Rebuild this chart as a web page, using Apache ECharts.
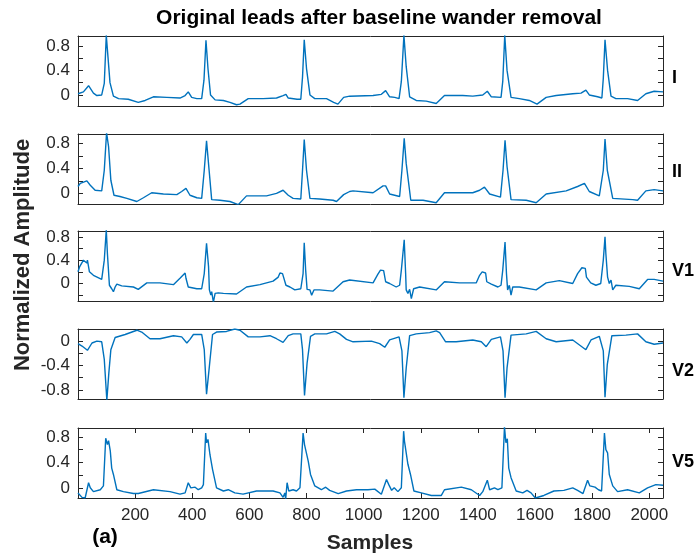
<!DOCTYPE html>
<html><head><meta charset="utf-8">
<script src="https://cdn.jsdelivr.net/npm/echarts@6/dist/echarts.min.js"></script>
<style>html,body{margin:0;padding:0;background:#fff}#c{width:698px;height:556px}</style>
</head><body><div id="c"></div>
<script>
// ---- data: [sample, normalized amplitude] ----
const leadI = [[0,0.02],[19,0.05],[37,0.15],[54,0.03],[66,-0.01],[83,0.0],[92,0.19],[99,0.97],[103,0.95],[112,0.2],[124,-0.02],[142,-0.06],[176,-0.07],[211,-0.12],[235,-0.09],[264,-0.03],[311,-0.04],[357,-0.05],[375,-0.01],[386,0.05],[398,-0.04],[416,-0.06],[433,-0.06],[441,0.24],[448,0.89],[455,0.43],[464,0.0],[480,-0.08],[509,-0.09],[532,-0.12],[555,-0.16],[567,-0.15],[596,-0.06],[648,-0.06],[695,-0.05],[718,-0.01],[728,0.01],[736,-0.05],[767,-0.07],[780,-0.07],[786,0.29],[792,0.9],[800,0.43],[812,0.0],[829,-0.06],[870,-0.06],[895,-0.12],[910,-0.15],[930,-0.04],[951,-0.02],[1033,-0.01],[1062,0.01],[1077,0.07],[1091,-0.03],[1109,-0.04],[1124,-0.06],[1132,0.22],[1141,0.97],[1149,0.46],[1161,-0.03],[1184,-0.09],[1219,-0.1],[1254,-0.14],[1283,-0.01],[1347,-0.01],[1382,-0.02],[1417,0.0],[1433,0.06],[1447,-0.03],[1481,-0.04],[1487,0.22],[1494,0.97],[1502,0.4],[1516,-0.04],[1545,-0.06],[1580,-0.09],[1607,-0.15],[1639,-0.04],[1674,-0.01],[1732,0.02],[1761,0.03],[1778,0.08],[1790,0.0],[1819,-0.03],[1834,-0.05],[1839,0.27],[1845,0.9],[1854,0.4],[1866,-0.02],[1883,-0.06],[1924,-0.06],[1959,-0.09],[1988,0.02],[2017,0.06],[2048,0.05]];
const leadII = [[0,0.11],[8,0.16],[31,0.2],[43,0.13],[60,0.05],[83,0.04],[92,0.37],[100,0.97],[107,0.75],[115,0.21],[126,-0.03],[147,-0.05],[171,-0.08],[206,-0.13],[229,-0.07],[258,0.01],[299,-0.01],[346,-0.02],[363,0.03],[378,0.08],[392,-0.03],[416,-0.07],[433,-0.08],[442,0.37],[450,0.84],[459,0.37],[468,-0.1],[497,-0.11],[532,-0.13],[561,-0.18],[590,-0.04],[660,-0.04],[695,0.0],[718,0.05],[736,-0.03],[753,-0.08],[780,-0.09],[786,0.37],[792,0.86],[800,0.37],[812,-0.08],[846,-0.09],[893,-0.11],[905,-0.13],[930,-0.02],[951,0.03],[963,0.04],[1033,0.01],[1068,0.12],[1077,0.12],[1091,-0.01],[1126,-0.05],[1134,0.37],[1142,0.88],[1149,0.48],[1165,-0.11],[1208,-0.11],[1254,-0.15],[1283,0.01],[1382,0.01],[1406,0.05],[1423,0.1],[1441,-0.01],[1479,-0.06],[1488,0.37],[1495,0.85],[1502,0.43],[1516,-0.1],[1569,-0.11],[1604,-0.15],[1639,-0.01],[1709,0.04],[1749,0.11],[1773,0.16],[1790,0.03],[1825,-0.04],[1839,0.37],[1845,0.87],[1853,0.37],[1872,-0.08],[1942,-0.1],[1959,-0.11],[1988,0.04],[2017,0.06],[2048,0.04]];
const leadV1 = [[0,0.2],[6,0.29],[19,0.4],[31,0.35],[33,0.4],[40,0.2],[44,0.22],[54,0.14],[83,0.07],[92,0.4],[99,0.92],[103,0.51],[110,-0.03],[118,-0.09],[124,-0.14],[130,-0.06],[136,-0.01],[153,-0.04],[194,-0.06],[211,-0.1],[241,0.01],[287,0.01],[334,-0.02],[357,0.09],[375,0.18],[378,0.09],[386,-0.06],[416,-0.09],[433,-0.09],[442,0.17],[450,0.69],[457,0.29],[460,-0.11],[465,-0.2],[468,-0.14],[474,-0.32],[480,-0.17],[491,-0.16],[509,-0.17],[555,-0.18],[590,-0.06],[637,-0.02],[683,0.04],[701,0.11],[707,0.18],[716,0.17],[720,0.19],[728,-0.03],[742,-0.06],[759,-0.11],[780,-0.09],[788,0.17],[792,0.7],[797,0.23],[802,-0.1],[812,-0.11],[818,-0.2],[826,-0.11],[846,-0.11],[893,-0.13],[928,0.03],[951,0.06],[1033,0.01],[1050,0.16],[1059,0.23],[1070,0.22],[1077,0.03],[1091,0.0],[1114,-0.06],[1126,-0.03],[1132,0.23],[1142,0.75],[1147,0.17],[1149,-0.11],[1155,-0.17],[1161,-0.1],[1167,-0.26],[1175,-0.09],[1196,-0.06],[1254,-0.11],[1283,0.03],[1336,0.01],[1394,0.01],[1406,0.14],[1415,0.2],[1427,0.18],[1431,0.03],[1447,-0.01],[1470,-0.06],[1481,-0.03],[1487,0.23],[1495,0.71],[1500,0.17],[1504,-0.11],[1510,-0.03],[1516,-0.2],[1522,-0.06],[1545,-0.06],[1604,-0.11],[1639,0.01],[1685,0.05],[1732,0.0],[1749,0.17],[1764,0.27],[1776,0.26],[1780,0.11],[1795,0.01],[1813,-0.03],[1830,0.0],[1839,0.4],[1845,0.8],[1848,0.51],[1854,0.11],[1860,0.0],[1866,0.06],[1872,-0.11],[1883,-0.03],[1930,-0.05],[1965,-0.09],[1994,0.07],[2017,0.07],[2048,0.04]];
const leadV2 = [[0,-0.04],[14,-0.08],[33,-0.15],[49,-0.03],[66,0.0],[83,-0.01],[92,-0.3],[101,-0.97],[108,-0.52],[115,-0.14],[130,0.06],[165,0.11],[206,0.18],[223,0.15],[252,0.04],[287,0.04],[334,0.09],[363,0.07],[381,-0.03],[392,0.03],[404,0.11],[433,0.11],[442,-0.14],[450,-0.87],[460,-0.41],[471,0.11],[485,0.15],[520,0.16],[549,0.2],[567,0.18],[596,0.07],[637,0.07],[672,0.09],[695,0.04],[718,-0.02],[736,0.09],[753,0.12],[780,0.12],[786,-0.14],[793,-0.89],[802,-0.36],[814,0.08],[829,0.12],[870,0.12],[899,0.16],[916,0.12],[940,0.03],[963,-0.01],[1027,0.0],[1056,-0.04],[1074,-0.1],[1091,0.02],[1124,0.07],[1134,-0.16],[1141,-0.93],[1149,-0.44],[1161,0.09],[1184,0.12],[1231,0.14],[1254,0.17],[1266,0.14],[1287,-0.01],[1324,-0.01],[1382,0.02],[1412,-0.01],[1429,-0.09],[1447,0.03],[1479,0.07],[1488,-0.16],[1495,-0.93],[1502,-0.44],[1516,0.1],[1569,0.12],[1604,0.16],[1639,0.04],[1674,-0.01],[1732,0.02],[1778,-0.14],[1796,0.02],[1825,0.08],[1839,-0.16],[1845,-0.92],[1853,-0.38],[1869,0.09],[1918,0.1],[1959,0.12],[1988,-0.01],[2017,-0.05],[2048,-0.03]];
const leadV5 = [[0,-0.08],[14,-0.15],[25,-0.16],[37,0.08],[43,0.0],[54,-0.06],[78,-0.03],[89,0.03],[97,0.78],[103,0.68],[107,0.74],[113,0.58],[118,0.31],[124,0.21],[136,-0.03],[159,-0.06],[194,-0.09],[211,-0.09],[264,-0.03],[322,-0.06],[357,-0.1],[375,-0.08],[386,0.08],[395,0.0],[410,0.01],[421,-0.03],[433,0.0],[439,0.05],[447,0.86],[450,0.71],[455,0.76],[462,0.52],[471,0.29],[485,0.0],[509,-0.05],[526,-0.03],[549,-0.08],[578,-0.1],[625,-0.05],[683,-0.05],[707,-0.08],[718,-0.15],[724,-0.08],[727,-0.18],[732,0.08],[738,-0.05],[753,-0.03],[765,-0.05],[777,0.0],[788,0.86],[793,0.68],[800,0.65],[806,0.42],[814,0.21],[829,0.03],[852,-0.03],[867,0.01],[881,-0.04],[911,-0.09],[940,-0.05],[975,-0.03],[1015,-0.03],[1039,-0.02],[1062,-0.1],[1080,0.13],[1088,0.05],[1098,-0.04],[1107,0.0],[1120,-0.06],[1132,0.0],[1140,0.89],[1143,0.73],[1148,0.76],[1155,0.37],[1164,0.21],[1176,-0.05],[1202,-0.08],[1237,-0.12],[1272,-0.12],[1283,-0.03],[1342,0.01],[1377,-0.03],[1406,-0.12],[1417,-0.06],[1433,0.12],[1441,-0.03],[1458,0.0],[1470,-0.03],[1484,0.0],[1493,0.96],[1498,0.71],[1503,0.77],[1508,0.31],[1516,0.16],[1534,-0.05],[1557,-0.08],[1572,-0.04],[1586,-0.08],[1601,-0.16],[1631,-0.12],[1666,-0.05],[1701,-0.04],[1732,0.0],[1749,-0.04],[1768,-0.09],[1784,0.12],[1792,0.03],[1810,0.01],[1822,-0.03],[1833,-0.05],[1843,0.86],[1848,0.6],[1854,0.55],[1860,0.21],[1872,0.03],[1889,-0.06],[1924,-0.03],[1965,-0.08],[1994,0.0],[2023,0.05],[2048,0.04]];

const leadNames = ['I', 'II', 'V1', 'V2', 'V5'];
const yMins = [-0.18, -0.17, -0.30, -0.95, -0.16];
const yMaxs = [0.96, 0.95, 0.90, 0.20, 0.94];
const yTickVals = [[0,0.2,0.4,0.6,0.8],[0,0.2,0.4,0.6,0.8],[-0.2,0,0.2,0.4,0.6,0.8],[-0.8,-0.6,-0.4,-0.2,0],[0,0.2,0.4,0.6,0.8]];
const yLabelVals = [[0,0.4,0.8],[0,0.4,0.8],[0,0.4,0.8],[-0.8,-0.4,0],[0,0.4,0.8]];
const xTickVals = [200,400,600,800,1000,1200,1400,1600,1800,2000];
const xMin = 0, xMax = 2048;
const titleText = 'Original leads after baseline wander removal';
const yTitle = 'Normalized Amplitude';
const xTitle = 'Samples';
const panelTag = '(a)';

const leads = [leadI, leadII, leadV1, leadV2, leadV5];

// ---- layout ----
const FONT = '"Liberation Sans", Arial, Helvetica, sans-serif';
const AX = '#262626';
const gridTops = [36, 134, 231, 329, 428];
const leadLabelY = [78, 172, 271, 371, 462];
const gridH = 70, gridLeft = 78, gridRight = 35;

const grid = [], xAxis = [], yAxis = [], series = [], graphic = [];
leads.forEach((d, i) => {
  grid.push({left: gridLeft, right: gridRight, top: gridTops[i], height: gridH, containLabel: false});
  const isLast = i === leads.length - 1;
  const lineStyle = {color: AX, width: 1};
  xAxis.push({type: 'value', gridIndex: i, min: xMin, max: xMax, position: 'bottom',
    axisLine: {show: true, onZero: false, lineStyle},
    axisTick: {show: isLast, inside: true, length: 5, customValues: xTickVals, lineStyle},
    axisLabel: {show: isLast, customValues: xTickVals, color: AX, fontSize: 17, fontFamily: FONT, margin: 9,
      formatter: v => String(v)},
    splitLine: {show: false}});
  xAxis.push({type: 'value', gridIndex: i, min: xMin, max: xMax, position: 'top',
    axisLine: {show: true, onZero: false, lineStyle},
    axisTick: {show: isLast, inside: true, length: 5, customValues: xTickVals, lineStyle},
    axisLabel: {show: false}, splitLine: {show: false}});
  yAxis.push({type: 'value', gridIndex: i, min: yMins[i], max: yMaxs[i], position: 'left',
    axisLine: {show: true, onZero: false, lineStyle},
    axisTick: {show: true, inside: true, length: 5, customValues: yTickVals[i], lineStyle},
    axisLabel: {show: true, customValues: yLabelVals[i], color: AX, fontSize: 17, fontFamily: FONT, margin: 8,
      formatter: v => String(Math.round(v * 10) / 10)},
    splitLine: {show: false}});
  yAxis.push({type: 'value', gridIndex: i, min: yMins[i], max: yMaxs[i], position: 'right',
    axisLine: {show: true, onZero: false, lineStyle},
    axisTick: {show: true, inside: true, length: 5, customValues: yTickVals[i], lineStyle},
    axisLabel: {show: false}, splitLine: {show: false}});
  series.push({type: 'line', xAxisIndex: 2 * i, yAxisIndex: 2 * i, data: d, showSymbol: false,
    symbol: 'none', clip: true, animation: false,
    lineStyle: {color: '#0072BD', width: 1.4}});
  graphic.push({type: 'text', x: 672, y: leadLabelY[i],
    style: {text: leadNames[i], fill: '#000', font: 'bold 18px ' + FONT, align: 'left', verticalAlign: 'middle'}});
});

graphic.push({type: 'text', x: 379, y: 18, style: {text: titleText, fill: '#000', font: 'bold 21px ' + FONT, align: 'center', verticalAlign: 'middle'}});
graphic.push({type: 'text', x: 23, y: 255, rotation: Math.PI / 2,
  style: {text: yTitle, fill: '#262626', font: 'bold 22px ' + FONT, align: 'center', verticalAlign: 'middle'}});
graphic.push({type: 'text', x: 370, y: 543, style: {text: xTitle, fill: '#262626', font: 'bold 21px ' + FONT, align: 'center', verticalAlign: 'middle'}});
graphic.push({type: 'text', x: 105, y: 537, style: {text: panelTag, fill: '#000', font: 'bold 21px ' + FONT, align: 'center', verticalAlign: 'middle'}});

const chart = echarts.init(document.getElementById('c'), null, {renderer: 'canvas'});
chart.setOption({animation: false, backgroundColor: '#fff', grid, xAxis, yAxis, series, graphic});
</script></body></html>
